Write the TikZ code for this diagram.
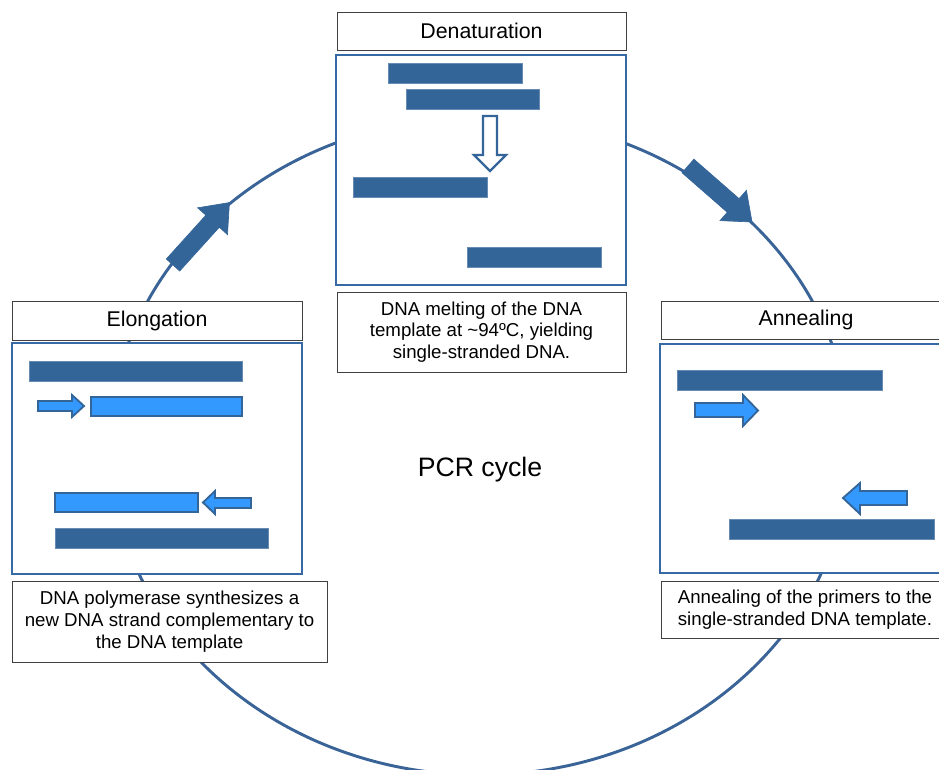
\documentclass[tikz,border=0pt]{standalone}
\usepackage{fontspec}
\setmainfont{Liberation Sans}
\usetikzlibrary{calc}
\definecolor{dnablue}{RGB}{52,101,153}
\definecolor{primerblue}{RGB}{51,153,255}
\definecolor{panelblue}{RGB}{55,105,165}
\definecolor{cycleblue}{RGB}{58,100,152}
\tikzset{
  darkbar/.style={fill=dnablue, draw=dnablue!75!white, line width=0.6pt},
  lightbar/.style={fill=primerblue, draw=dnablue, line width=1.4pt, line join=miter},
  panel/.style={draw=panelblue, line width=2.2pt, fill=white, rectangle, inner sep=0pt},
  labelbox/.style={draw=black!75, line width=0.7pt, fill=white, rectangle, inner sep=0pt, align=center},
  titletext/.style={font=\fontsize{16}{19}\selectfont},
  captext/.style={font=\fontsize{14}{16.3}\selectfont},
  cycleline/.style={draw=cycleblue, line width=2.2pt},
  bigarrow/.style={fill=dnablue, draw=dnablue, line width=0.5pt, line join=miter},
  hollowarrow/.style={fill=white, draw=dnablue, line width=1.6pt, line join=miter}
}
\begin{document}
\begin{tikzpicture}[x=0.75pt,y=-0.75pt]
\useasboundingbox (0,0) rectangle (939,770);
\clip (0,0) rectangle (939,770);

% cycle
\draw[cycleline] (480,446) ellipse [x radius=370, y radius=329];

% big arrows on the cycle
\fill[bigarrow] (179.7,271.0) -- (219.3,227.2) -- (227.5,234.6) -- (229.4,202.6)
  -- (197.7,207.8) -- (205.9,215.2) -- (166.3,259.0) -- cycle;
\fill[bigarrow] (682.1,172.8) -- (727.3,212.3) -- (720.0,220.6) -- (752,222)
  -- (746.4,190.4) -- (739.1,198.7) -- (693.9,159.2) -- cycle;

% Denaturation
\node[labelbox, titletext, minimum width=216.75pt, minimum height=28.5pt] (dtitle) at (481.5,31) {Denaturation};
\node[panel, minimum width=217.5pt, minimum height=172.5pt] (dpanel) at (481,170) {};
\node[labelbox, captext, minimum width=216.75pt, minimum height=60pt] (dcap) at (481.5,332)
  {DNA melting of the DNA\\template at \textasciitilde94ºC, yielding\\single-stranded DNA.};
\filldraw[darkbar] (388,63) rectangle (522,83);
\filldraw[darkbar] (406,89) rectangle (539,109);
\filldraw[hollowarrow] (483,116) -- (497,116) -- (497,155) -- (506,155) -- (490,171) -- (474,155) -- (483,155) -- cycle;
\filldraw[darkbar] (353,177) rectangle (487,197);
\filldraw[darkbar] (467,247) rectangle (601,267);

% Elongation
\node[labelbox, titletext, minimum width=217.5pt, minimum height=29.25pt] (etitle) at (157,320.5) {Elongation};
\node[panel, minimum width=217.5pt, minimum height=173.25pt] (epanel) at (157,458.5) {};
\node[labelbox, captext, minimum width=236.25pt, minimum height=60.75pt] (ecap) at (169.5,621.5)
  {DNA polymerase synthesizes a\\new DNA strand complementary to\\the DNA template};
\filldraw[darkbar] (29,361) rectangle (242,381);
\filldraw[lightbar] (38,401) -- (72,401) -- (72,395) -- (84,406) -- (72,417) -- (72,411) -- (38,411) -- cycle;
\filldraw[lightbar] (91,397) rectangle (242,416);
\filldraw[lightbar] (55,493) rectangle (198,512);
\filldraw[lightbar] (251,498) -- (215,498) -- (215,491) -- (203,502.5) -- (215,514) -- (215,508) -- (251,508) -- cycle;
\filldraw[darkbar] (55,528) rectangle (268,548);

% Annealing
\node[labelbox, titletext, minimum width=217.5pt, minimum height=28.5pt] (atitle) at (806,320) {Annealing};
\node[panel, minimum width=217.5pt, minimum height=171.75pt] (apanel) at (805,458.5) {};
\node[labelbox, captext, minimum width=216pt, minimum height=42.75pt] (acap) at (805,609.5)
  {Annealing of the primers to the\\single-stranded DNA template.};
\filldraw[darkbar] (677,370) rectangle (882,390);
\filldraw[lightbar] (695,403) -- (743,403) -- (743,395) -- (758,410.5) -- (743,426) -- (743,417) -- (695,417) -- cycle;
\filldraw[lightbar] (907,491) -- (860,491) -- (860,483) -- (843,498) -- (860,514) -- (860,505) -- (907,505) -- cycle;
\filldraw[darkbar] (729,519) rectangle (934,539);

% centre label
\node[font=\fontsize{20}{23}\selectfont] (pcr) at (480,470) {PCR cycle};
\end{tikzpicture}
\end{document}
